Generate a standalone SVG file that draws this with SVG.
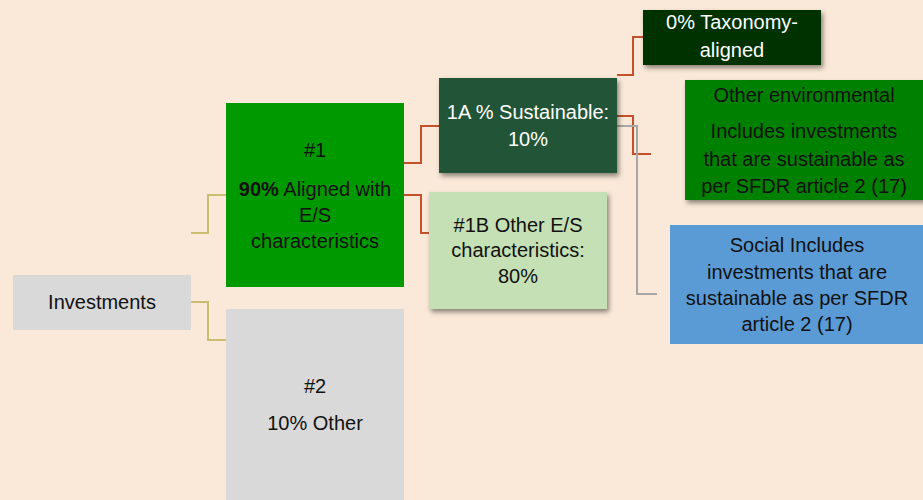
<svg xmlns="http://www.w3.org/2000/svg" width="923" height="500" viewBox="0 0 923 500">
<defs>
<filter id="sh" x="-10%" y="-10%" width="130%" height="140%">
<feDropShadow dx="2" dy="3" stdDeviation="2.5" flood-color="#000" flood-opacity="0.45"/>
</filter>
<style>
text{font-family:"Liberation Sans",Arial,sans-serif;font-size:20px;text-anchor:middle}
.w{fill:#fff}.k{fill:#111}
.c{fill:none;stroke-width:2}
.y{stroke:#C9BE72}.r{stroke:#C4502C}.g{stroke:#A6A6A6}
</style>
</defs>
<rect width="923" height="500" fill="#FAE9D8"/>
<g id="connectors">
<polyline class="c y" points="191,233 208,233 208,195 226,195"/>
<polyline class="c y" points="191,302 208,302 208,340 226,340"/>
<polyline class="c r" points="404,163 421,163 421,126 439,126"/>
<polyline class="c r" points="404,195 421,195 421,233 429,233"/>
<polyline class="c r" points="617,75 633,75 633,37 643,37"/>
<polyline class="c r" points="617,116 633,116 633,154 651,154"/>
<polyline class="c g" points="617,126 637,126 637,294 657,294"/>
</g>
<g id="investments">
<rect x="13" y="275" width="178" height="55" fill="#D9D9D9"/>
<text class="k" x="102" y="309">Investments</text>
</g>
<g id="n1">
<rect x="226" y="103" width="178" height="184" fill="#009900"/>
<text class="k" x="315" y="157">#1</text>
<text class="k" x="315" y="196"><tspan font-weight="bold">90%</tspan> Aligned with</text>
<text class="k" x="315" y="222">E/S</text>
<text class="k" x="315" y="248">characteristics</text>
</g>
<g id="n2">
<rect x="226" y="309" width="178" height="191" fill="#D9D9D9"/>
<text class="k" x="315" y="393">#2</text>
<text class="k" x="315" y="430">10% Other</text>
</g>
<g id="n1a">
<rect x="439" y="78" width="178" height="95" fill="#245538" filter="url(#sh)"/>
<text class="w" x="528" y="119">1A % Sustainable:</text>
<text class="w" x="528" y="146">10%</text>
</g>
<g id="n1b">
<rect x="429" y="192" width="178" height="117" fill="#C5E0B4" filter="url(#sh)"/>
<text class="k" x="518" y="232">#1B Other E/S</text>
<text class="k" x="518" y="257">characteristics:</text>
<text class="k" x="518" y="283">80%</text>
</g>
<g id="taxonomy">
<rect x="643" y="10" width="178" height="55" fill="#003300" filter="url(#sh)"/>
<text class="w" x="732" y="29">0% Taxonomy-</text>
<text class="w" x="732" y="57">aligned</text>
</g>
<g id="otherenv">
<rect x="685" y="80" width="240" height="120" fill="#008000" filter="url(#sh)"/>
<text class="k" x="804" y="102">Other environmental</text>
<text class="k" x="804" y="138">Includes investments</text>
<text class="k" x="804" y="166">that are sustainable as</text>
<text class="k" x="804" y="193">per SFDR article 2 (17)</text>
</g>
<g id="social">
<rect x="670" y="225" width="253" height="119" fill="#5B9BD5"/>
<text class="k" x="797" y="252">Social Includes</text>
<text class="k" x="797" y="279">investments that are</text>
<text class="k" x="797" y="305">sustainable as per SFDR</text>
<text class="k" x="797" y="331">article 2 (17)</text>
</g>
</svg>
